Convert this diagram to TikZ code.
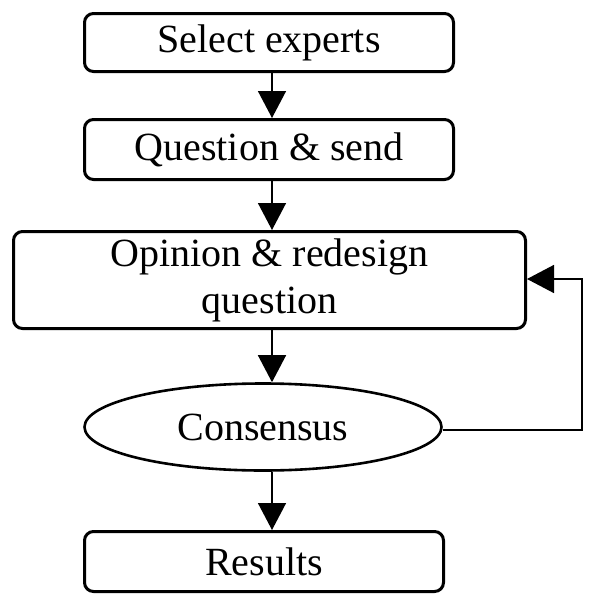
\documentclass[tikz,border=0pt]{standalone}
\usepackage{fontspec}
\setmainfont{Liberation Serif}
\usetikzlibrary{shapes.geometric,arrows.meta}
\begin{document}
\begin{tikzpicture}[x=1pt,y=-1pt,
  box/.style={draw, line width=3pt, rounded corners=9pt, inner sep=0pt,
    font=\fontsize{40}{47}\selectfont, align=center},
  oval/.style={draw, ellipse, line width=2.6pt, inner sep=0pt,
    font=\fontsize{40}{47}\selectfont},
  conn/.style={line width=1.5pt, -{Triangle[length=27pt,width=28pt]}}]
\useasboundingbox (0,0) rectangle (598,616);
\node[box, minimum width=369pt, minimum height=58pt] (s1) at (269,42.5) {Select experts};
\node[box, minimum width=369pt, minimum height=60pt] (s2) at (269,149.5) {Question \& send};
\node[box, minimum width=512pt, minimum height=97pt] (s3) at (269.5,280) {\raisebox{-3pt}{Opinion \& redesign}\\\raisebox{-3pt}{question}};
\node[oval, minimum width=357pt, minimum height=87pt] (e) at (263,427) {Consensus};
\node[box, minimum width=359pt, minimum height=60pt] (s5) at (264,561.5) {Results};
\coordinate (fb) at (582,279);
\draw[conn] ([xshift=3pt]s1.south) -- ([xshift=3pt]s2.north);
\draw[conn] ([xshift=3pt]s2.south) -- ([xshift=2.5pt]s3.north);
\draw[conn] ([xshift=2.5pt]s3.south) -- ([xshift=9pt]e.north);
\draw[conn] ([xshift=9pt]e.south) -- ([xshift=8pt]s5.north);
\draw[conn] ([yshift=-3pt]e.east) -- ([yshift=-3pt]e.east -| fb) -- (fb) -- (s3.east |- fb);
\end{tikzpicture}
\end{document}
